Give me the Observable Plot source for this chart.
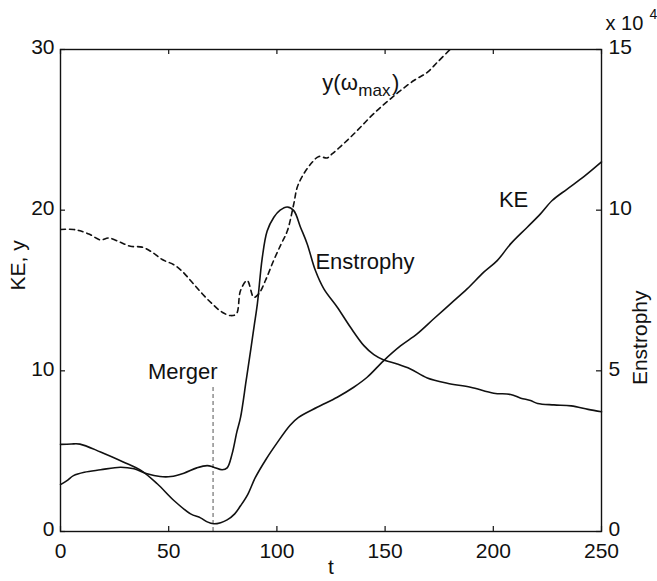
<!DOCTYPE html>
<html><head><meta charset="utf-8">
<script src="https://cdn.jsdelivr.net/npm/d3@7"></script>
<script src="https://cdn.jsdelivr.net/npm/@observablehq/plot@0.6"></script>
<style>body{margin:0;background:#fff}#chart{width:657px;height:581px}</style>
</head><body><div id="chart"></div>
<script>
// Kinetic energy (left axis)
const keT   = [0,5,9,18.5,29,37,44.7,52.4,60.1,64.7,67.8,70.8,74,77,80.5,83.2,86.5,90,95,100,106,110,118.6,127.9,135.5,141.7,149.4,157.1,164.8,172.5,180.2,187.9,195.6,201.8,208,215.7,221.8,227.2,234,242,250];
const keVal = [5.42,5.45,5.44,4.95,4.33,3.82,2.97,1.93,1.1,0.85,0.6,0.48,0.55,0.72,1.1,1.6,2.3,3.35,4.5,5.5,6.6,7.1,7.73,8.36,8.98,9.6,10.64,11.55,12.3,13.24,14.17,15.1,16.14,16.86,17.9,18.94,19.77,20.6,21.3,22.1,23.0];
// Enstrophy (right axis, x 10^4)
const enT   = [0,3,6,11,18.5,27.7,34,40,46,51,57,63,67.8,70.8,74.7,77,79.3,81.5,83.2,85.8,88,89.5,91,93.2,95.5,98.6,101.5,104.8,107.8,110.9,114,117.8,121.7,127.9,134,140.2,144.8,149.4,155.6,161.7,169.5,178.7,189.5,200.2,208,212.7,217.2,220.5,228,236,243.8,250];
const enVal = [1.46,1.585,1.74,1.845,1.92,2.0,1.95,1.795,1.71,1.71,1.815,1.98,2.05,2.0,1.92,1.98,2.415,3.1,3.55,4.7,5.7,6.4,7.1,8.5,9.35,9.78,10.0,10.1,9.985,9.47,8.95,8.12,7.55,6.98,6.355,5.785,5.505,5.34,5.215,5.06,4.78,4.615,4.49,4.305,4.265,4.15,4.075,3.985,3.94,3.91,3.8,3.725];
// y(omega_max) (left axis, dashed)
const yT   = [0,6,8.5,13.1,18.5,22.3,27.7,32.3,37.7,42.4,47,52.4,56.2,60.9,65.5,70.1,74.7,78.6,81.3,83.2,86.3,89.3,91.6,94.7,98.6,102,104.8,107.8,109.4,112.4,116.3,119.4,123.2,125.5,129.4,134,138.6,143.3,147.9,152.5,157.1,163.3,169.5,174.1,180];
const yVal = [18.8,18.8,18.73,18.52,18.15,18.27,18.0,17.75,17.7,17.38,16.93,16.6,16.2,15.5,14.8,14.17,13.65,13.44,13.55,15.0,15.62,14.58,14.79,15.62,16.9,17.9,18.7,20.39,21.43,22.26,22.98,23.34,23.25,23.5,23.96,24.54,25.16,25.82,26.4,26.93,27.44,28.07,28.58,29.2,30.0];

const xTicks = [0,50,100,150,200,250];
const leftTicks = [0,10,20,30];
const rightTicks = [0,5,10,15];
const leftMax = 30, rightMax = 15;
const ratio = leftMax / rightMax;

const mergerT = [70.5];
const mergerTop = 9.1;

// annotations: text, t, value (left units)
const midNotes = [{text:"Merger", t:56.5, v:9.5}];
const startNotes = [
  {text:"KE", t:202.6, v:20.22},
  {text:"Enstrophy", t:117.8, v:16.35},
  {text:"y(\u03C9", t:121, v:27.5},
  {text:")", t:153.2, v:27.5}
];
const subNotes = [{text:"max", t:137.6, v:27.1}];

const ke = keT.map((t,i)=>({t, v:keVal[i]}));
const en = enT.map((t,i)=>({t, v:enVal[i]}));
const ym = yT.map((t,i)=>({t, v:yVal[i]}));

const font = "'Liberation Sans', Arial, Helvetica, sans-serif";
const sw = 1.6;
const W = 657, H = 581, mL = 60, mR = 56, mT = 49, mB = 50;
const pw = W - mL - mR, ph = H - mT - mB, tk = 5;

const chart = Plot.plot({
  width: W, height: H,
  marginLeft: mL, marginRight: mR, marginTop: mT, marginBottom: mB,
  x: {domain:[0,250]},
  y: {domain:[0,leftMax]},
  style: {fontFamily: font, fontSize: "21px", color: "#111", background: "white", overflow: "visible"},
  marks: [
    Plot.ruleX(mergerT, {y1:0, y2:mergerTop, stroke:"#555", strokeWidth:1, strokeDasharray:"4,3"}),
    Plot.line(ym, {x:"t", y:"v", stroke:"#111", strokeWidth:sw, strokeDasharray:"5,4", curve:"catmull-rom", clip:true}),
    Plot.line(ke, {x:"t", y:"v", stroke:"#111", strokeWidth:sw, curve:"catmull-rom"}),
    Plot.line(en, {x:"t", y:d=>d.v*ratio, stroke:"#111", strokeWidth:sw, curve:"catmull-rom"}),
    Plot.frame({stroke:"#111", strokeWidth:1.4}),
    // inward ticks
    Plot.tickX(xTicks, {x:d=>d, insetTop: ph - tk, stroke:"#111", strokeWidth:1.2}),
    Plot.tickX(xTicks, {x:d=>d, insetBottom: ph - tk, stroke:"#111", strokeWidth:1.2}),
    Plot.tickY(leftTicks, {y:d=>d, insetRight: pw - tk, stroke:"#111", strokeWidth:1.2}),
    Plot.tickY(rightTicks, {y:d=>d*ratio, insetLeft: pw - tk, stroke:"#111", strokeWidth:1.2}),
    // tick labels
    Plot.axisX({ticks:xTicks, tickSize:0, tickPadding:12, label:null, tickFormat:d=>String(d)}),
    Plot.axisY({ticks:leftTicks, tickSize:0, tickPadding:6, label:null, tickFormat:d=>String(d), dy:-2}),
    Plot.axisY({anchor:"right", ticks:rightTicks.map(d=>d*ratio), tickSize:0, tickPadding:7, label:null, tickFormat:d=>String(d/ratio), dy:-2}),
    // axis titles
    Plot.text(["KE, y"], {frameAnchor:"left", rotate:-90, dx:-42, fontSize:21, fill:"#111"}),
    Plot.text(["Enstrophy"], {frameAnchor:"right", rotate:-90, dx:39, fontSize:21, fill:"#111"}),
    Plot.text(["t"], {frameAnchor:"bottom", dy:42, fontSize:21, fill:"#111"}),
    Plot.text(["x 10"], {frameAnchor:"top-right", textAnchor:"start", lineAnchor:"bottom", dx:4, dy:-20, fontSize:20, fill:"#111"}),
    Plot.text(["4"], {frameAnchor:"top-right", textAnchor:"start", lineAnchor:"bottom", dx:48, dy:-31, fontSize:14, fill:"#111"}),
    // annotations
    Plot.text(midNotes, {x:"t", y:"v", text:"text", textAnchor:"middle", fontSize:22, lineAnchor:"bottom", fill:"#111"}),
    Plot.text(startNotes, {x:"t", y:"v", text:"text", textAnchor:"start", fontSize:22, lineAnchor:"bottom", fill:"#111"}),
    Plot.text(subNotes, {x:"t", y:"v", text:"text", textAnchor:"start", fontSize:17, lineAnchor:"bottom", fill:"#111"})
  ]
});
document.getElementById("chart").appendChild(chart);
</script>
</body></html>
